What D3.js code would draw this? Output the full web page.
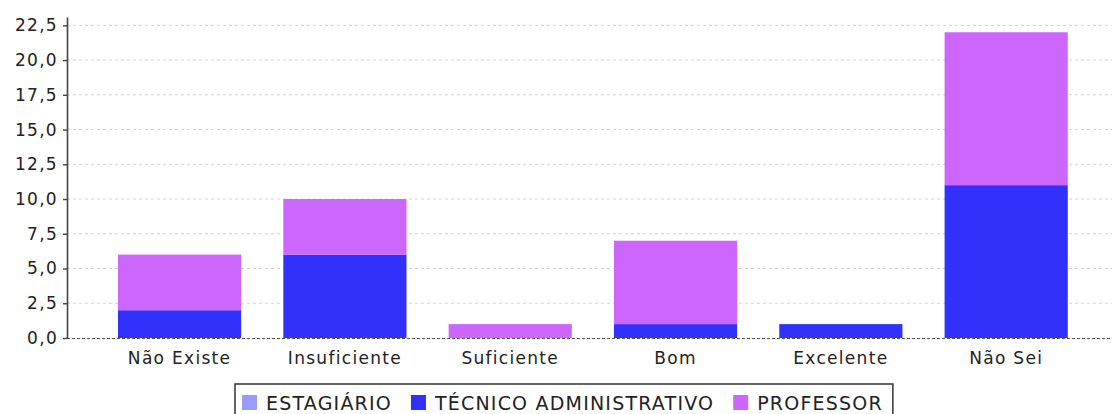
<!DOCTYPE html>
<html>
<head>
<meta charset="utf-8">
<script src="https://cdn.jsdelivr.net/npm/d3@7"></script>
<style>
  html, body { margin: 0; padding: 0; background: #fff; }
  svg { display: block; font-family: "DejaVu Sans", sans-serif; }
</style>
</head>
<body>
<svg id="chart" width="1112" height="414"></svg>
<script>
// Avaliação por categoria de resposta
const categories = ["Não Existe", "Insuficiente", "Suficiente", "Bom", "Excelente", "Não Sei"];
const seriesNames = ["ESTAGIÁRIO", "TÉCNICO ADMINISTRATIVO", "PROFESSOR"];
const estagiario = [0, 0, 0, 0, 0, 0];
const tecnico = [2, 6, 0, 1, 1, 11];
const professor = [4, 4, 1, 6, 0, 11];
const yTicks = [0, 2.5, 5, 7.5, 10, 12.5, 15, 17.5, 20, 22.5];
const colors = ["#9b9bfb", "#3131fb", "#cc66ff"];

const svg = d3.select("#chart");
const plot = { left: 67, right: 1112, top: 17, bottom: 338 };

const rows = categories.map((c, i) => ({
  cat: c, "ESTAGIÁRIO": estagiario[i], "TÉCNICO ADMINISTRATIVO": tecnico[i], "PROFESSOR": professor[i]
}));
const stacked = d3.stack().keys(seriesNames)(rows);

const x = d3.scaleBand().domain(categories)
  .range([plot.left, 1110])
  .paddingInner(0.255).paddingOuter(0.282).align(0.547);
const y = d3.scaleLinear().domain([0, 23.1]).range([plot.bottom, plot.top]);

// grid lines
svg.append("g").selectAll("line").data(yTicks.filter(d => d > 0)).join("line")
  .attr("x1", plot.left).attr("x2", plot.right)
  .attr("y1", d => y(d)).attr("y2", d => y(d))
  .attr("stroke", "#d4d4d4").attr("stroke-width", 1)
  .attr("stroke-dasharray", "3,3");

// bars
svg.append("g").selectAll("g").data(stacked).join("g")
  .attr("fill", (d, i) => colors[i])
  .selectAll("rect").data(d => d).join("rect")
  .attr("x", d => x(d.data.cat))
  .attr("width", x.bandwidth())
  .attr("y", d => y(d[1]))
  .attr("height", d => y(d[0]) - y(d[1]));

// baseline
svg.append("line")
  .attr("x1", plot.left).attr("x2", plot.right)
  .attr("y1", plot.bottom + 0.5).attr("y2", plot.bottom + 0.5)
  .attr("stroke", "#555").attr("stroke-width", 1.2)
  .attr("stroke-dasharray", "3,2");

// y axis
const fmt = d => d3.format(".1f")(d).replace(".", ",");
const yAxis = svg.append("g")
  .attr("transform", `translate(${plot.left},0)`)
  .call(d3.axisLeft(y).tickValues(yTicks).tickFormat(fmt).tickSize(4).tickSizeOuter(0).tickPadding(5));
yAxis.select(".domain").attr("stroke", "#444").attr("stroke-width", 1.6);
yAxis.selectAll(".tick line").attr("stroke", "#444").attr("stroke-width", 1.4);
yAxis.selectAll(".tick text")
  .attr("fill", "#222").style("font-size", "17px").style("letter-spacing", "1.3px")
  .attr("font-family", "DejaVu Sans");

// x axis labels
const xAxis = svg.append("g")
  .attr("transform", `translate(0,${plot.bottom})`)
  .call(d3.axisBottom(x).tickSize(0).tickPadding(14));
xAxis.select(".domain").remove();
xAxis.selectAll(".tick text")
  .attr("fill", "#222").style("font-size", "17px").style("letter-spacing", "1.3px")
  .attr("font-family", "DejaVu Sans");

// legend
const legend = svg.append("g");
const items = legend.selectAll("g").data(seriesNames).join("g");
items.append("rect").attr("width", 15).attr("height", 15).attr("y", -15)
  .attr("fill", (d, i) => colors[i]);
items.append("text").attr("x", 24).attr("y", 0)
  .attr("fill", "#222").style("font-size", "19px").style("letter-spacing", "1.2px")
  .text(d => d);
const gap = 19;
let cx = 0;
items.each(function () {
  d3.select(this).attr("transform", `translate(${cx},0)`);
  cx += this.getBBox().width + gap;
});
const totalW = cx - gap;
const lx = 242, ly = 410;
legend.attr("transform", `translate(${lx},${ly})`);
legend.insert("rect", ":first-child")
  .attr("x", -7).attr("y", -26).attr("width", totalW + 17).attr("height", 36)
  .attr("fill", "#fff").attr("stroke", "#333").attr("stroke-width", 1.5);
</script>
</body>
</html>
